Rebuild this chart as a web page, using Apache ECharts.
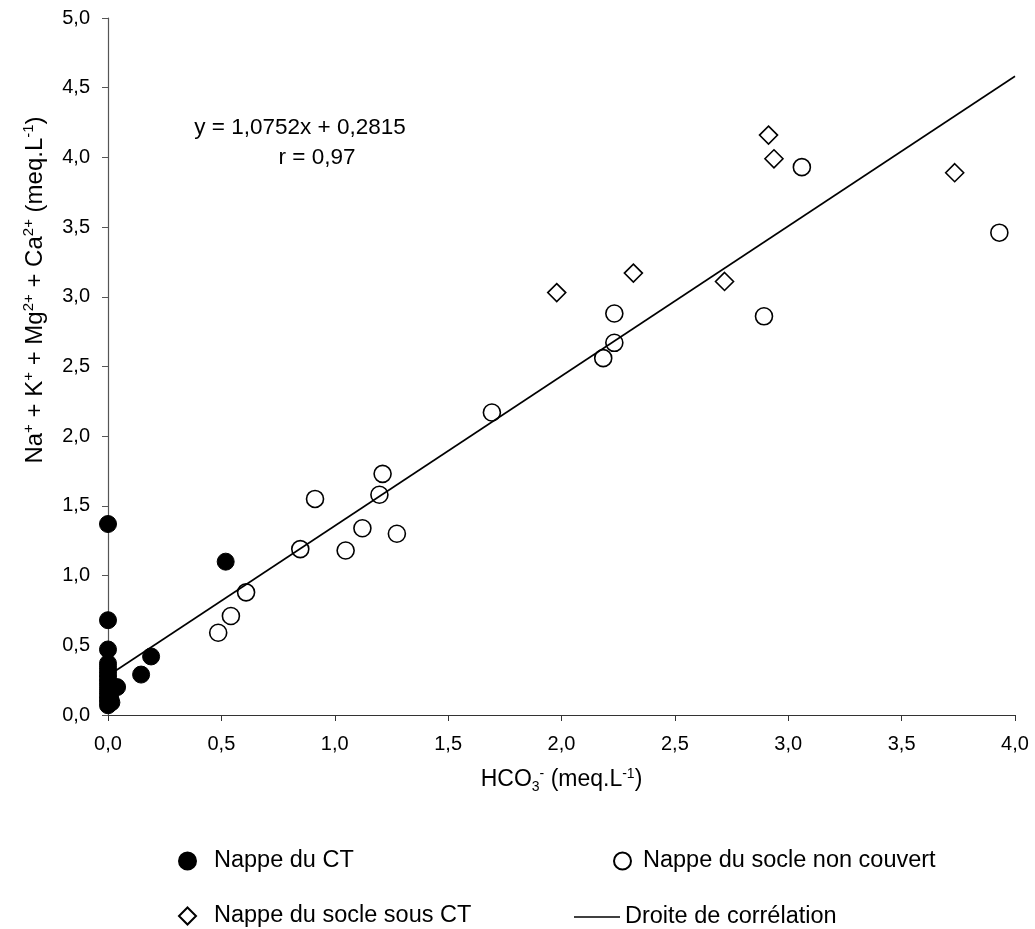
<!DOCTYPE html>
<html>
<head>
<meta charset="utf-8">
<script src="https://cdn.jsdelivr.net/npm/echarts@6/dist/echarts.min.js"></script>
<style>
html,body{margin:0;padding:0;background:#fff;}
#chart{width:1035px;height:929px;}
</style>
</head>
<body>
<div id="chart"></div>
<script>
// Data
const seriesNames = ['Nappe du CT', 'Nappe du socle non couvert', 'Nappe du socle sous CT', 'Droite de corrélation'];

const nappeCT = [
  [0, 1.37], [0, 0.68], [0, 0.47], [0, 0.37], [0, 0.34], [0, 0.31], [0, 0.28],
  [0, 0.25], [0, 0.22], [0, 0.19], [0, 0.16], [0, 0.13], [0, 0.10], [0, 0.07],
  [0.01, 0.12], [0.015, 0.09], [0.04, 0.20], [0.146, 0.29], [0.19, 0.42], [0.519, 1.10]
];

const socleNonCouvert = [
  [0.486, 0.59], [0.542, 0.71], [0.609, 0.88], [0.848, 1.19], [0.913, 1.55],
  [1.048, 1.18], [1.122, 1.34], [1.197, 1.58], [1.211, 1.73], [1.274, 1.30],
  [1.693, 2.17], [2.184, 2.56], [2.233, 2.67], [2.233, 2.88], [2.893, 2.86],
  [3.060, 3.93], [3.931, 3.46]
];

const socleSousCT = [
  [1.979, 3.03], [2.317, 3.17], [2.719, 3.11], [2.913, 4.16], [2.937, 3.99], [3.734, 3.89]
];

const slope = 1.0752;
const intercept = 0.2815;
const lineXRange = [0, 4];
const equationLines = ['y = 1,0752x + 0,2815', 'r = 0,97'];

const xTicks = { min: 0, max: 4, interval: 0.5 };
const yTicks = { min: 0, max: 5, interval: 0.5 };
// Axis titles (rich text: b = base, sup = superscript, sub = subscript)
const xTitle = '{b|HCO}{sub|3}{sup|-}{b| (meq.L}{sup|-1}{b|)}';
const yTitle = '{b|Na}{sup|+}{b| + K}{sup|+}{b| + Mg}{sup|2+}{b| + Ca}{sup|2+}{b| (meq.L}{sup|-1}{b|)}';

const FONT = "'Liberation Sans', Arial, Helvetica, sans-serif";
const fmt = v => v.toFixed(1).replace('.', ',');
const regression = lineXRange.map(x => [x, slope * x + intercept]);

function makeRich(base, small) {
  return {
    b: { fontFamily: FONT, fontSize: base, color: '#000', lineHeight: base + 7, verticalAlign: 'middle' },
    sup: { fontFamily: FONT, fontSize: small, color: '#000', lineHeight: small, verticalAlign: 'top', padding: [2, 0, 0, 0] },
    sub: { fontFamily: FONT, fontSize: small, color: '#000', lineHeight: small, verticalAlign: 'bottom', padding: [0, 0, 1, 0] }
  };
}

const chart = echarts.init(document.getElementById('chart'));
const legendText = { fontFamily: FONT, fontSize: 23.5, color: '#000' };
const legendBase = { orient: 'horizontal', itemWidth: 17, itemHeight: 17, selectedMode: false, padding: 0 };
chart.setOption({
  animation: false,
  backgroundColor: '#fff',
  grid: { left: 108, right: 20, top: 18, bottom: 214, containLabel: false },
  xAxis: {
    type: 'value', min: xTicks.min, max: xTicks.max, interval: xTicks.interval,
    name: xTitle, nameLocation: 'middle', nameGap: 50,
    nameTextStyle: { rich: makeRich(23, 14) },
    axisLine: { onZero: false, lineStyle: { color: '#333', width: 1.2 } },
    axisTick: { inside: false, length: 6, lineStyle: { color: '#333' } },
    axisLabel: { formatter: fmt, fontFamily: FONT, fontSize: 20, color: '#000', margin: 19 },
    splitLine: { show: false }
  },
  yAxis: {
    type: 'value', min: yTicks.min, max: yTicks.max, interval: yTicks.interval,
    axisLine: { show: true, onZero: false, lineStyle: { color: '#555', width: 1.2 } },
    axisTick: { show: true, inside: false, length: 6, lineStyle: { color: '#555' } },
    axisLabel: { formatter: fmt, fontFamily: FONT, fontSize: 20, color: '#000', margin: 18 },
    splitLine: { show: false }
  },
  legend: [
    Object.assign({}, legendBase, { data: [seriesNames[0]], left: 178, top: 849, textStyle: Object.assign({}, legendText, { padding: [0, 0, 0, 13] }) }),
    Object.assign({}, legendBase, { data: [seriesNames[1]], left: 613, top: 849, textStyle: Object.assign({}, legendText, { padding: [0, 0, 0, 7] }) }),
    Object.assign({}, legendBase, { data: [seriesNames[2]], left: 178, top: 904, textStyle: Object.assign({}, legendText, { padding: [0, 0, 0, 13] }) }),
    Object.assign({}, legendBase, { data: [{ name: seriesNames[3], icon: 'rect' }], left: 574, top: 905, itemWidth: 46, itemHeight: 1.6, textStyle: Object.assign({}, legendText, { padding: [0, 0, 0, 0] }) })
  ],
  graphic: [
    { type: 'text', x: 35, y: 290, rotation: Math.PI / 2,
      style: { text: yTitle, rich: makeRich(24, 15), align: 'center', verticalAlign: 'middle' } },
    { type: 'text', x: 300, y: 128,
      style: { text: equationLines[0], font: '22.5px ' + FONT, fill: '#000', align: 'center', verticalAlign: 'middle' } },
    { type: 'text', x: 317, y: 158,
      style: { text: equationLines[1], font: '22.5px ' + FONT, fill: '#000', align: 'center', verticalAlign: 'middle' } }
  ],
  series: [
    {
      name: seriesNames[3], type: 'line', data: regression, symbol: 'none', showSymbol: false,
      lineStyle: { color: '#000', width: 1.6 }, itemStyle: { color: '#000' }, z: 1
    },
    {
      name: seriesNames[0], type: 'scatter', data: nappeCT, symbol: 'circle', symbolSize: 17,
      itemStyle: { color: '#000', borderColor: '#000', borderWidth: 1, opacity: 1 }, z: 3
    },
    {
      name: seriesNames[1], type: 'scatter', data: socleNonCouvert, symbol: 'circle', symbolSize: 17,
      itemStyle: { color: 'rgba(255,255,255,0)', borderColor: '#000', borderWidth: 1.6, opacity: 1 }, z: 2
    },
    {
      name: seriesNames[2], type: 'scatter', data: socleSousCT, symbol: 'diamond', symbolSize: 18,
      itemStyle: { color: 'rgba(255,255,255,0)', borderColor: '#000', borderWidth: 1.6, opacity: 1 }, z: 2
    }
  ]
});
</script>
</body>
</html>
